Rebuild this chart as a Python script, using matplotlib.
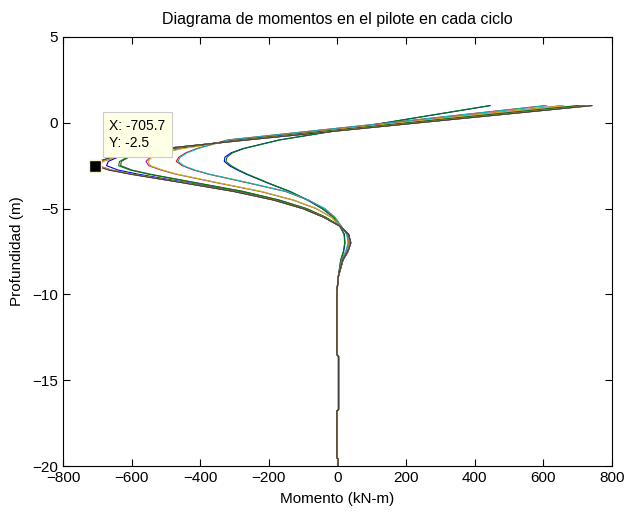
import matplotlib
matplotlib.use("Agg")
import matplotlib.pyplot as plt

plt.rcParams['font.family'] = ['Liberation Sans', 'DejaVu Sans']

# depth (m) where each moment was read, shared by every cycle
depth = [1, 0, -1, -1.5, -1.75, -2, -2.25, -2.5, -2.75, -3, -3.5, -4,
         -4.5, -5, -5.5, -6, -6.5, -7, -7.5, -8, -9, -10]
# deep part, all cycles coincide there
depth_tail = [-10.5, -13.5, -13.6, -16.7, -16.8, -19.5, -19.6, -20]
moment_tail = [-2, -2, 3, 3, -2, -2, 2, 2]

# moment (kN-m) per cycle
ciclos = [
    [445, 140, -170, -275, -310, -328, -330, -315, -292, -265, -205, -140,
     -88, -45, -12, 6, 20, 22, 18, 10, 2, -2],
    [443, 138, -168, -272, -306, -322, -325, -310, -288, -262, -202, -138,
     -86, -44, -12, 6, 19, 21, 17, 9, 2, -2],
    [605, 150, -320, -410, -442, -462, -470, -452, -420, -375, -262, -152,
     -86, -38, -8, 10, 28, 32, 25, 12, 2, -2],
    [610, 152, -318, -406, -438, -458, -465, -448, -416, -372, -258, -150,
     -85, -37, -8, 10, 27, 31, 24, 12, 2, -2],
    [655, 178, -292, -458, -512, -545, -558, -550, -515, -470, -350, -225,
     -130, -62, -18, 8, 30, 35, 28, 14, 2, -2],
    [660, 182, -288, -452, -506, -540, -552, -545, -510, -466, -346, -222,
     -128, -61, -18, 8, 30, 35, 28, 14, 2, -2],
    [700, 210, -280, -482, -562, -608, -630, -632, -600, -545, -410, -275,
     -170, -90, -35, 6, 32, 38, 30, 16, 2, -2],
    [720, 222, -275, -490, -585, -640, -668, -673, -640, -580, -435, -292,
     -180, -96, -38, 5, 33, 39, 31, 16, 2, -2],
    [705, 212, -282, -484, -565, -612, -635, -638, -605, -550, -414, -278,
     -172, -91, -35, 6, 32, 38, 30, 16, 2, -2],
    [735, 232, -268, -500, -592, -648, -684, -695, -660, -596, -446, -300,
     -185, -100, -40, 5, 30, 38, 30, 15, 2, -2],
    [738, 234, -266, -502, -595, -652, -690, -700, -663, -598, -447, -301,
     -186, -100, -40, 5, 30, 38, 30, 15, 2, -2],
    [740, 236, -264, -504, -598, -655, -694, -703, -665, -600, -448, -302,
     -186, -101, -40, 5, 31, 38, 30, 15, 2, -2],
    [736, 233, -267, -501, -593, -650, -687, -698, -661, -597, -446, -300,
     -185, -100, -40, 5, 30, 38, 30, 15, 2, -2],
    [742, 237, -263, -506, -600, -658, -697, -705.7, -667, -602, -450, -303,
     -187, -101, -41, 5, 31, 39, 30, 15, 2, -2],
]

colores = [(0, 0, 1), (0, 0.5, 0), (1, 0, 0), (0, 0.75, 0.75),
           (0.75, 0, 0.75), (0.75, 0.75, 0), (0.25, 0.25, 0.25)]

dato_x = -705.7
dato_y = -2.5

fig = plt.figure(figsize=(6.3, 5.12), dpi=100)
ax = fig.add_axes([0.1, 0.0898, 0.8714, 0.838])

for i, m in enumerate(ciclos):
    ax.plot(m + moment_tail, depth + depth_tail,
            color=colores[i % len(colores)], lw=0.8)

ax.plot([dato_x], [dato_y], 's', color='k', markersize=8,
        markeredgecolor=(0.95, 0.95, 0.8), zorder=5)
ax.annotate('X: %.1f\nY: %.1f' % (dato_x, dato_y), xy=(dato_x, dato_y),
            xytext=(10, 11), textcoords='offset points', fontsize=10,
            va='bottom', ha='left', linespacing=1.35,
            bbox=dict(boxstyle='square,pad=0.45', fc=(1, 1, 0.9),
                      ec=(0.8, 0.8, 0.8), lw=0.8), zorder=6)

ax.set_xlim(-800, 800)
ax.set_ylim(-20, 5)
ax.set_xticks(range(-800, 801, 200))
ax.set_yticks(range(-20, 6, 5))
ax.tick_params(direction='in', top=True, right=True, length=5,
               labelsize=11, width=0.8)
for s in ax.spines.values():
    s.set_linewidth(0.8)

ax.set_title('Diagrama de momentos en el pilote en cada ciclo', fontsize=11.5,
             pad=9)
ax.set_xlabel('Momento (kN-m)', fontsize=11, labelpad=5)
ax.set_ylabel('Profundidad (m)', fontsize=11, labelpad=6)

fig.savefig('out.png', dpi=100)
